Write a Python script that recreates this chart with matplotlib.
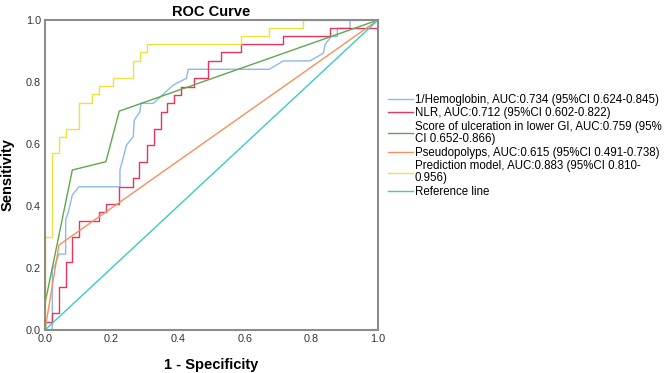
import matplotlib
matplotlib.use('Agg')
import matplotlib.pyplot as plt

plt.rcParams['font.family'] = ['Liberation Sans', 'DejaVu Sans']

# 1/Hemoglobin (corner points)
hb_fpr = [0, 0.022, 0.022, 0.03, 0.042, 0.062, 0.062, 0.07, 0.082, 0.102, 0.225, 0.225,
          0.245, 0.265, 0.268, 0.285, 0.288, 0.325, 0.385, 0.425, 0.43, 0.673, 0.716,
          0.796, 0.836, 0.841, 0.86, 0.878, 0.878, 0.916, 0.916, 1.0]
hb_tpr = [0, 0, 0.194, 0.21, 0.245, 0.245, 0.355, 0.38, 0.435, 0.462, 0.462, 0.516,
          0.597, 0.624, 0.677, 0.704, 0.731, 0.731, 0.79, 0.812, 0.841, 0.841, 0.868,
          0.868, 0.893, 0.921, 0.947, 0.947, 0.973, 0.973, 1.0, 1.0]

# NLR (staircase, steps-post)
nlr_fpr = [0, 0, 0.022, 0.042, 0.062, 0.082, 0.102, 0.162, 0.183, 0.223, 0.265, 0.283,
           0.305, 0.327, 0.347, 0.367, 0.387, 0.407, 0.447, 0.49, 0.53, 0.59, 0.714,
           0.856, 1.0, 1.0]
nlr_tpr = [0, 0.027, 0.056, 0.138, 0.218, 0.299, 0.353, 0.38, 0.406, 0.462, 0.489, 0.543,
           0.597, 0.65, 0.704, 0.731, 0.758, 0.785, 0.814, 0.868, 0.896, 0.923, 0.948,
           0.975, 0.975, 1.0]

# Score of ulceration in lower GI
ulc_fpr = [0, 0, 0.082, 0.183, 0.223, 1.0]
ulc_tpr = [0, 0.086, 0.516, 0.543, 0.706, 1.0]

# Pseudopolyps
pp_fpr = [0, 0.042, 1.0]
pp_tpr = [0, 0.274, 1.0]

# Prediction model (staircase, steps-post)
pm_fpr = [0, 0, 0.022, 0.042, 0.062, 0.102, 0.142, 0.162, 0.205, 0.265, 0.285, 0.305,
          0.59, 0.674, 0.776, 1.0]
pm_tpr = [0, 0.30, 0.57, 0.624, 0.65, 0.733, 0.76, 0.787, 0.814, 0.868, 0.896, 0.923,
          0.948, 0.975, 1.0, 1.0]

ref_x = [0, 1]
ref_y = [0, 1]

labels = ['1/Hemoglobin, AUC:0.734 (95%CI 0.624-0.845)',
          'NLR, AUC:0.712 (95%CI 0.602-0.822)',
          'Score of ulceration in lower GI, AUC:0.759 (95%\nCI 0.652-0.866)',
          'Pseudopolyps, AUC:0.615 (95%CI 0.491-0.738)',
          'Prediction model, AUC:0.883 (95%CI 0.810-\n0.956)',
          'Reference line']
colors = ['#8db8f0', '#e8355e', '#5fa84e', '#f6905e', '#ece23e', '#3ccbbf']

fig = plt.figure(figsize=(6.69, 3.73), dpi=100)
ax = fig.add_axes([45/669, 43/373, 333/669, 310/373])

lw = 1.0
ax.plot(hb_fpr, hb_tpr, color=colors[0], lw=lw, label=labels[0])
ax.plot(nlr_fpr, nlr_tpr, color=colors[1], lw=lw, drawstyle='steps-post', label=labels[1])
ax.plot(ulc_fpr, ulc_tpr, color=colors[2], lw=lw, label=labels[2])
ax.plot(pp_fpr, pp_tpr, color=colors[3], lw=lw, label=labels[3])
ax.plot(pm_fpr, pm_tpr, color=colors[4], lw=lw, drawstyle='steps-post', label=labels[4])
ax.plot(ref_x, ref_y, color=colors[5], lw=lw, label=labels[5])

ax.set_xlim(0, 1)
ax.set_ylim(0, 1)
ticks = [0.0, 0.2, 0.4, 0.6, 0.8, 1.0]
ax.set_xticks(ticks)
ax.set_yticks(ticks)
ax.set_xticklabels(['%.1f' % t for t in ticks])
ax.set_yticklabels(['%.1f' % t for t in ticks])
ax.tick_params(length=0, labelsize=7.8, colors='#333333', pad=3)
for s in ax.spines.values():
    s.set_color('#8c8c8c')
    s.set_linewidth(1.5)

ax.set_title('ROC Curve', fontsize=10.5, fontweight='bold', pad=3)
ax.set_xlabel('1 - Specificity', fontsize=10.5, fontweight='bold')
ax.set_ylabel('Sensitivity', fontsize=10.5, fontweight='bold')
ax.xaxis.set_label_coords(0.5, -0.09)
ax.yaxis.set_label_coords(-0.09, 0.5)

leg = fig.legend(loc='upper left', bbox_to_anchor=(388/669, 1 - 94/373), frameon=False,
                 fontsize=8.3, handlelength=2.2, handletextpad=0.1, labelspacing=0.12,
                 borderaxespad=0, borderpad=0)
for t in leg.get_texts():
    t.set_linespacing(1.05)

fig.savefig('out.png', dpi=100)
